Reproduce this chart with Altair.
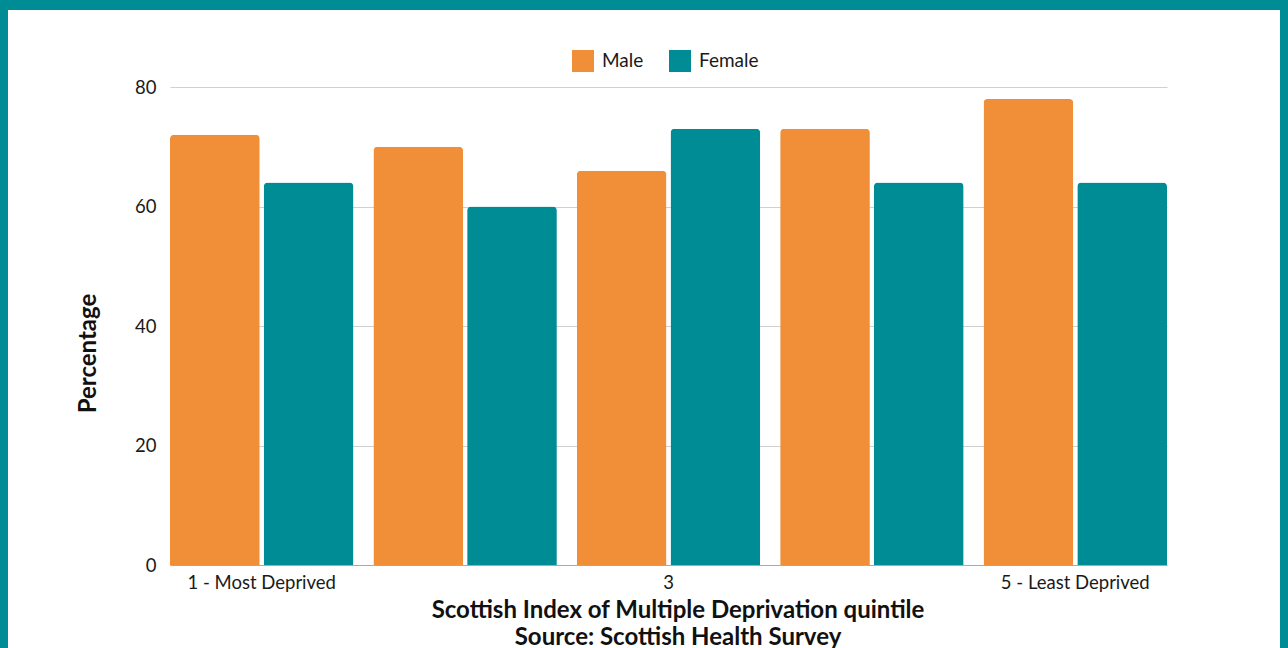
import altair as alt
import pandas as pd

# Scottish Health Survey: percentage by SIMD quintile and sex
quintiles = ["1 - Most Deprived", "2", "3", "4", "5 - Least Deprived"]
male = [72, 70, 66, 73, 78]
female = [64, 60, 73, 64, 64]
sexes = ["Male", "Female"]
colors = ["#F18E38", "#008C95"]

rows = []
for q, m, f in zip(quintiles, male, female):
    rows.append({"quintile": q, "sex": "Male", "value": m})
    rows.append({"quintile": q, "sex": "Female", "value": f})
df = pd.DataFrame(rows)

W, H = 997, 478
PAD_L, PAD_T, PAD_R, PAD_B = 170, 87, 121, 83
FRAME = "#008C95"

bars = alt.Chart(df).mark_bar(cornerRadiusTopLeft=4, cornerRadiusTopRight=4).encode(
    x=alt.X(
        "quintile:N",
        sort=quintiles,
        scale=alt.Scale(paddingInner=0.098, paddingOuter=0),
        axis=alt.Axis(
            title=["Scottish Index of Multiple Deprivation quintile",
                   "Source: Scottish Health Survey"],
            labelAngle=0,
            labelExpr="datum.label == '2' || datum.label == '4' ? '' : datum.label",
            ticks=False,
            labelPadding=8,
            domainColor="#aaaaaa",
            titlePadding=7,
            titleX=W / 2 + 9,
        ),
    ),
    xOffset=alt.XOffset("sex:N", sort=sexes, scale=alt.Scale(paddingInner=0.043)),
    y=alt.Y(
        "value:Q",
        scale=alt.Scale(domain=[0, 80]),
        axis=alt.Axis(
            title="Percentage",
            values=[0, 20, 40, 60, 80],
            ticks=False,
            domain=False,
            labelPadding=14,
            titlePadding=34,
            titleY=H / 2 + 27,
        ),
    ),
    color=alt.Color(
        "sex:N",
        sort=sexes,
        scale=alt.Scale(domain=sexes, range=colors),
        legend=alt.Legend(
            title=None,
            orient="none",
            legendX=402,
            legendY=-37,
            direction="horizontal",
            symbolType="square",
            symbolSize=484,
            symbolStrokeWidth=0,
            labelFontSize=19,
            labelOffset=8,
            columnPadding=25,
        ),
    ),
)

# teal frame along the top and sides of the card
frame_df = pd.DataFrame({"k": [0]})
top = alt.Chart(frame_df).mark_rect(color=FRAME).encode(
    x=alt.value(-PAD_L), x2=alt.value(W + PAD_R), y=alt.value(-PAD_T), y2=alt.value(-PAD_T + 10)
)
left = alt.Chart(frame_df).mark_rect(color=FRAME).encode(
    x=alt.value(-PAD_L), x2=alt.value(-PAD_L + 8), y=alt.value(-PAD_T), y2=alt.value(H + PAD_B)
)
right = alt.Chart(frame_df).mark_rect(color=FRAME).encode(
    x=alt.value(W + PAD_R - 8), x2=alt.value(W + PAD_R), y=alt.value(-PAD_T), y2=alt.value(H + PAD_B)
)

chart = alt.layer(top, left, right, bars).properties(
    width=W,
    height=H,
    autosize=alt.AutoSizeParams(type="none"),
    padding={"left": PAD_L, "top": PAD_T, "right": PAD_R, "bottom": PAD_B},
    background="white",
).configure(
    font="Lato",
).configure_view(
    stroke=None,
).configure_axis(
    labelFont="Lato",
    labelFontSize=18.5,
    labelColor="#1a1a1a",
    titleFont="Lato",
    titleFontSize=24,
    titleFontWeight="bold",
    titleColor="#111111",
    titleLineHeight=27,
    gridColor="#d0d0d0",
).configure_legend(
    labelFont="Lato",
    labelColor="#1a1a1a",
)

chart.save("out.html", embed_options={"renderer": "svg", "actions": False})
